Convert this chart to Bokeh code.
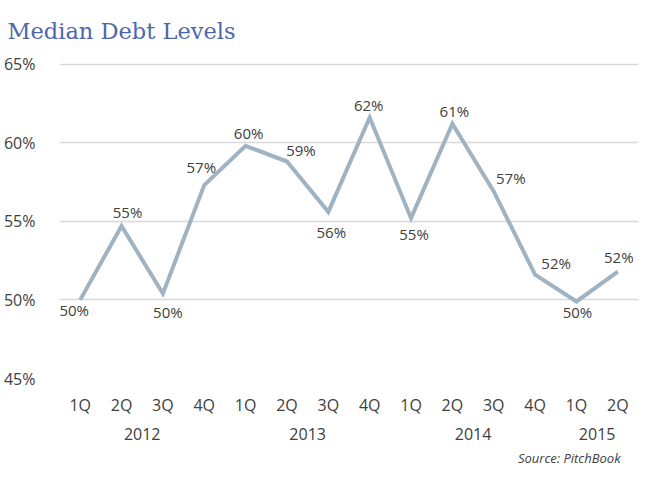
from bokeh.plotting import figure
from bokeh.models import ColumnDataSource, FactorRange, Range1d, Title
from bokeh.embed import file_html
from bokeh.resources import INLINE
from bokeh.core.properties import value

years = ["2012", "2012", "2012", "2012", "2013", "2013", "2013", "2013",
         "2014", "2014", "2014", "2014", "2015", "2015"]
quarters = ["1Q", "2Q", "3Q", "4Q", "1Q", "2Q", "3Q", "4Q",
            "1Q", "2Q", "3Q", "4Q", "1Q", "2Q"]
debt = [50.0, 54.7, 50.4, 57.3, 59.8, 58.8, 55.6, 61.6,
        55.2, 61.2, 56.9, 51.6, 49.9, 51.8]
y_ticks = [45, 50, 55, 60, 65]

# where each value label sits relative to its point (screen pixels, +y is down)
label_dx = [-6, 6, 5, -3, 3, 14, 3, -1, 3, 2, 17, 21, 1, 1]
label_dy = [10, -14, 18, -18, -13, -12, 20, -13, 16, -13, -13, -12, 11, -15]

factors = list(zip(years, quarters))
source = ColumnDataSource(dict(
    x=factors,
    y=debt,
    label=["%d%%" % round(v) for v in debt],
    dx=label_dx,
    dy=label_dy,
))

text_color = "#404040"
font = "Open Sans"

p = figure(frame_width=579, frame_height=316, output_backend="svg", toolbar_location=None,
           x_range=FactorRange(*factors, factor_padding=0, group_padding=0, range_padding=0),
           y_range=Range1d(45, 65.1),
           min_border_left=50, min_border_right=13, min_border_top=0,
           min_border_bottom=0)
p.outline_line_color = None
p.background_fill_color = "white"
p.border_fill_color = "white"

p.title.text = "Median Debt Levels"
p.title.text_font = "DejaVu Serif"
p.title.text_font_style = "normal"
p.title.text_font_size = "22.5px"
p.title.vertical_align = "top"
p.title.text_line_height = 0.5
p.title.text_color = "#4D67AC"
p.title.offset = -52
p.title.standoff = 34

p.line(x="x", y="y", source=source, line_color="#9FB3C3", line_width=4,
       line_join="miter")
p.text(x="x", y="y", text="label", source=source, x_offset="dx", y_offset="dy",
       text_align="center", text_baseline="middle", text_font=value(font),
       text_font_size="15px", text_color=text_color)

p.yaxis.ticker = y_ticks
p.yaxis.major_label_overrides = {t: "%d%%" % t for t in y_ticks}
p.yaxis.axis_line_color = None
p.yaxis.major_tick_line_color = None
p.yaxis.minor_tick_line_color = None
p.yaxis.major_label_standoff = 18
p.yaxis.major_label_text_font = font
p.yaxis.major_label_text_font_size = "16px"
p.yaxis.major_label_text_color = text_color

p.xaxis.axis_line_color = None
p.xaxis.major_tick_line_color = None
p.xaxis.minor_tick_line_color = None
p.xaxis.major_label_standoff = 9
p.xaxis.major_label_text_font = font
p.xaxis.major_label_text_font_size = "16px"
p.xaxis.major_label_text_color = text_color
p.xaxis.group_text_font = font
p.xaxis.group_text_font_size = "16px"
p.xaxis.group_text_font_style = "normal"
p.xaxis.group_text_color = text_color
p.xaxis.separator_line_alpha = 0

p.xgrid.grid_line_color = None
p.ygrid.grid_line_color = "#D9D9D9"
p.ygrid.grid_line_width = 1.5

p.add_layout(Title(text="Source: PitchBook", align="right", offset=18, standoff=8,
                   text_font=font, text_font_style="italic",
                   text_font_size="13px", text_color=text_color), "below")

open("out.html", "w").write(file_html(p, INLINE))
